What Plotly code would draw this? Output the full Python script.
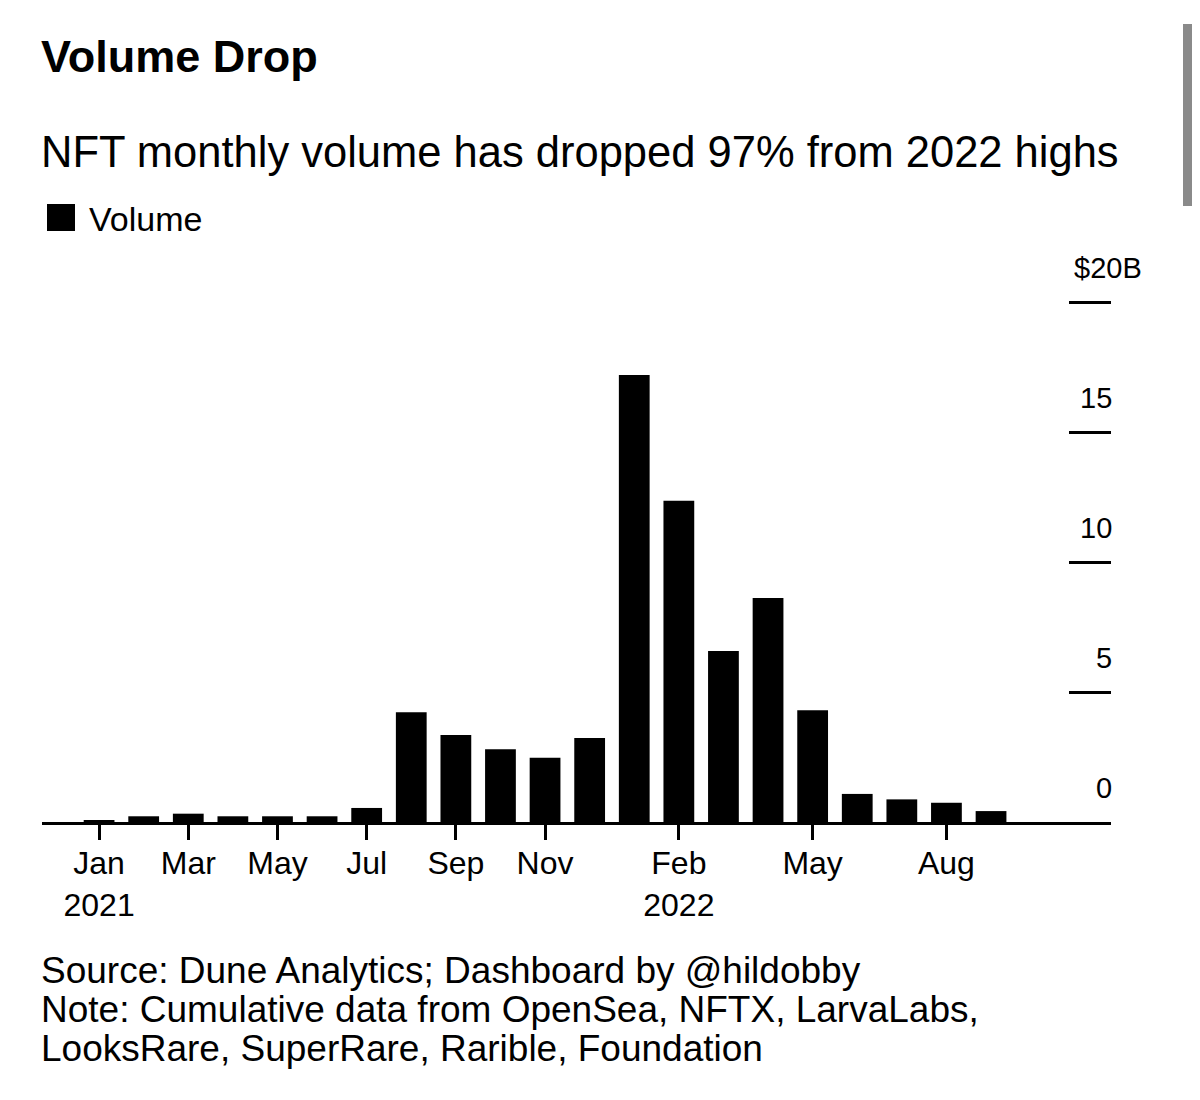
import plotly.graph_objects as go

# ---- data ----
months = ["Jan 2021", "Feb 2021", "Mar 2021", "Apr 2021", "May 2021", "Jun 2021",
          "Jul 2021", "Aug 2021", "Sep 2021", "Oct 2021", "Nov 2021", "Dec 2021",
          "Jan 2022", "Feb 2022", "Mar 2022", "Apr 2022", "May 2022", "Jun 2022",
          "Jul 2022", "Aug 2022", "Sep 2022"]
volume_b = [0.05, 0.22, 0.32, 0.22, 0.22, 0.22, 0.54, 4.22, 3.35, 2.80, 2.47, 3.23,
            17.19, 12.36, 6.58, 8.62, 4.30, 1.08, 0.87, 0.74, 0.42]
x_tick_months = ["Jan 2021", "Mar 2021", "May 2021", "Jul 2021", "Sep 2021",
                 "Nov 2021", "Feb 2022", "May 2022", "Aug 2022"]
x_tick_labels = ["Jan<br>2021", "Mar", "May", "Jul", "Sep", "Nov",
                 "Feb<br>2022", "May", "Aug"]
y_ticks = [0, 5, 10, 15, 20]
y_tick_labels = ["0", "5", "10", "15", "$20B"]

title = "Volume Drop"
subtitle = "NFT monthly volume has dropped 97% from 2022 highs"
legend_label = "Volume"
source_lines = ["Source: Dune Analytics; Dashboard by @hildobby",
                "Note: Cumulative data from OpenSea, NFTX, LarvaLabs,",
                "LooksRare, SuperRare, Rarible, Foundation"]

FONT = "Liberation Sans, Arial, Helvetica, sans-serif"

x_idx = list(range(len(months)))
tickvals = [months.index(m) for m in x_tick_months]

fig = go.Figure()
fig.add_trace(go.Bar(x=x_idx, y=volume_b, name=legend_label,
                     marker=dict(color="black", line=dict(width=0)),
                     showlegend=False))

# pixel helpers for layout (plot area: x 42..1111, y 289..822)
L, R, T, B = 42, 1111, 289, 822
def py(p):
    return (B - p) / (B - T)
def px(p):
    return (p - L) / (R - L)

fig.update_layout(
    width=1200, height=1100,
    margin=dict(l=L, r=1200 - R, t=T, b=1100 - B),
    paper_bgcolor="white", plot_bgcolor="white",
    font=dict(family=FONT, color="black", size=30),
    bargap=0.31,
    xaxis=dict(range=[-1.28, 22.69], tickmode="array", tickvals=tickvals,
               ticktext=x_tick_labels, showgrid=False, zeroline=False,
               showline=True, linecolor="black", linewidth=3,
               ticks="outside", ticklen=15, tickwidth=2.5, tickcolor="black",
               ticklabelstandoff=-4,
               tickfont=dict(size=32, family=FONT, color="black")),
    yaxis=dict(range=[0, 20.5], side="right", tickmode="array",
               tickvals=y_ticks, showticklabels=False,
               showgrid=False, zeroline=False, showline=False,
               ticks="inside", ticklen=42, tickwidth=2.5, tickcolor="black"),
)

annotations = [
    dict(text="<b>" + title + "</b>", x=px(39), y=py(57), xref="paper", yref="paper",
         xanchor="left", yanchor="middle", showarrow=False,
         font=dict(size=45, family=FONT, color="black")),
    dict(text=subtitle, x=px(39), y=py(152), xref="paper", yref="paper",
         xanchor="left", yanchor="middle", showarrow=False,
         font=dict(size=43.5, family=FONT, color="black")),
    dict(text=legend_label, x=px(87), y=py(219), xref="paper", yref="paper",
         xanchor="left", yanchor="middle", showarrow=False,
         font=dict(size=34, family=FONT, color="black")),
]
for i, line in enumerate(source_lines):
    annotations.append(dict(text=line, x=px(39), y=py(970 + 39 * i),
                            xref="paper", yref="paper", xanchor="left",
                            yanchor="middle", align="left", showarrow=False,
                            font=dict(size=37, family=FONT, color="black")))
# y-axis labels sitting above the tick marks
for v, lab in zip(y_ticks, y_tick_labels):
    is_top = lab.startswith("$")
    annotations.append(dict(text=lab, x=px(1144 if is_top else 1114), y=v,
                            xref="paper", yref="y", xanchor="right",
                            yanchor="bottom", yshift=16, showarrow=False,
                            font=dict(size=29, family=FONT, color="black")))
fig.update_layout(annotations=annotations)

shapes = [
    # legend swatch
    dict(type="rect", xref="paper", yref="paper", x0=px(47), x1=px(75),
         y0=py(231), y1=py(204), fillcolor="black", line=dict(width=0)),
    # browser scrollbar
    dict(type="line", xref="paper", yref="paper", x0=px(1187.5), x1=px(1187.5),
         y0=py(24), y1=py(206), line=dict(color="#8a8a8a", width=9)),
]
fig.update_layout(shapes=shapes)

fig.write_html("out.html")
